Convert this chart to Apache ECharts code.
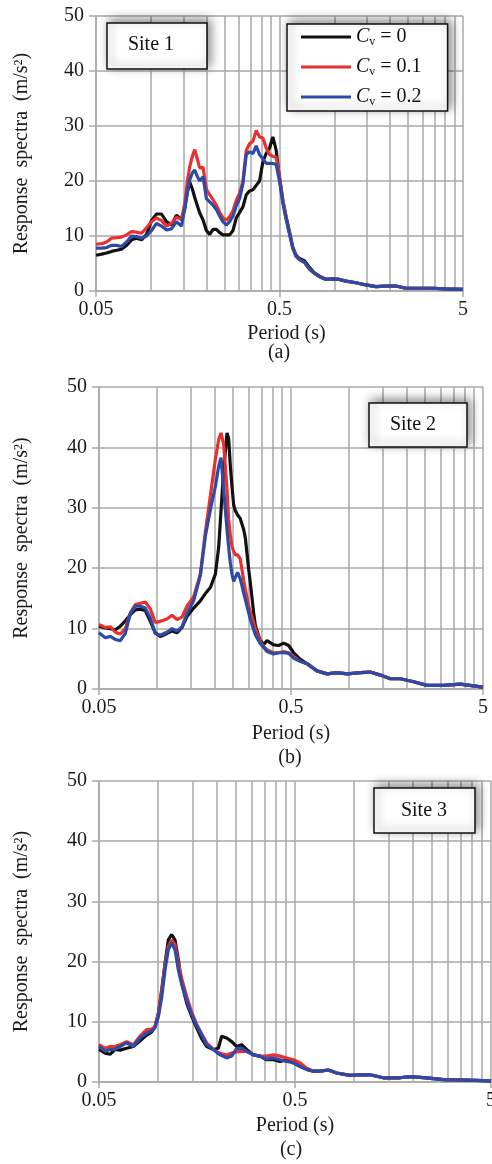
<!DOCTYPE html>
<html>
<head>
<meta charset="utf-8">
<script src="https://cdn.jsdelivr.net/npm/echarts@6/dist/echarts.min.js"></script>
<style>html,body{margin:0;padding:0;background:#fff}#c{width:492px;height:1164px}</style>
</head>
<body>
<div id="c"></div>
<script>
// ---------- tick values ----------
const yTicks = [0, 10, 20, 30, 40, 50];
const xLabelValues = [0.05, 0.5, 5];
const xGridValues = [0.05, 0.1, 0.15, 0.2, 0.25, 0.3, 0.35, 0.4, 0.45, 0.5, 1, 1.5, 2, 2.5, 3, 3.5, 4, 4.5, 5];
const seriesNames = ['Cv = 0', 'Cv = 0.1', 'Cv = 0.2'];
const siteLabels = ['Site 1', 'Site 2', 'Site 3'];
const captions = ['(a)', '(b)', '(c)'];

// ---------- Site 1 ----------
const periodsA = [0.05,0.0537,0.0571,0.0608,0.0648,0.0689,0.0734,0.0781,0.0832,0.0885,0.0943,0.1003,0.1068,0.1137,0.1211,0.1289,0.1372,0.1461,0.1523,0.1574,0.1621,0.1676,0.1726,0.1784,0.1837,0.1916,0.1997,0.2083,0.2172,0.2264,0.2361,0.246,0.2565,0.2675,0.2789,0.2908,0.3032,0.316,0.3294,0.3435,0.3582,0.3734,0.3893,0.4059,0.4231,0.4412,0.4599,0.4796,0.5,0.5213,0.5435,0.5666,0.5907,0.6159,0.6421,0.6836,0.7278,0.7748,0.825,0.8967,0.9747,1.0595,1.1516,1.3055,1.479,1.676,1.9,2.153,2.44,2.884,3.407,4.025,5.0];
const site1Cv0 = [6.5,6.7,6.9,7.2,7.4,7.6,8.3,9.3,9.6,9.3,10.3,12.8,14.0,14.0,12.6,12.0,13.8,13.0,15.0,18.0,19.8,18.5,17.0,15.5,14.2,12.9,11.0,10.3,11.2,11.2,10.6,10.2,10.2,10.2,11.0,13.3,14.3,15.3,17.5,18.2,18.4,19.2,20.0,23.5,25.0,26.0,28.0,25.6,20.5,16.5,13.5,10.8,8.0,6.5,5.9,5.5,4.3,3.3,2.7,2.1,2.2,2.1,1.8,1.5,1.1,0.8,0.9,0.9,0.5,0.5,0.5,0.4,0.3];
const site1Cv01 = [8.5,8.6,8.9,9.6,9.7,9.8,10.2,10.8,10.7,10.5,11.5,12.6,13.3,12.8,11.8,12.3,13.4,13.0,15.9,20.0,22.6,24.5,25.7,24.0,22.4,22.5,18.5,17.5,16.6,15.6,14.3,13.3,12.9,13.5,14.6,16.5,17.8,20.0,25.5,26.8,27.2,29.2,28.0,27.8,26.0,24.8,24.5,24.3,21.0,16.5,13.2,10.5,7.8,6.3,5.7,5.2,4.0,3.2,2.6,2.1,2.2,2.1,1.8,1.5,1.1,0.8,0.9,0.9,0.5,0.5,0.5,0.4,0.3];
const site1Cv02 = [7.8,7.8,7.9,8.3,8.3,8.1,8.9,10.0,9.9,9.6,10.0,11.0,12.3,11.8,11.1,11.3,12.6,11.8,15.0,18.0,20.2,21.5,22.0,20.8,20.0,20.8,16.8,16.2,15.6,14.8,13.6,12.6,12.0,12.6,13.6,15.5,16.8,19.5,24.8,25.3,25.0,26.4,24.8,24.0,23.2,23.2,23.2,23.0,20.0,16.0,13.0,10.4,7.8,6.3,5.7,5.2,4.0,3.2,2.6,2.1,2.2,2.1,1.8,1.5,1.1,0.8,0.9,0.9,0.5,0.5,0.5,0.4,0.3];

// ---------- Site 2 ----------
const periodsB = [0.05,0.0539,0.0573,0.0608,0.0646,0.0686,0.0728,0.0773,0.0821,0.0871,0.0925,0.0982,0.1043,0.113,0.12,0.1274,0.1353,0.1436,0.1556,0.1686,0.179,0.1901,0.2018,0.2101,0.216,0.223,0.2321,0.2367,0.2415,0.2464,0.2514,0.2565,0.2637,0.2723,0.2834,0.2892,0.301,0.3071,0.3196,0.326,0.3393,0.3462,0.3603,0.3749,0.3825,0.4062,0.4313,0.4579,0.4861,0.5162,0.5592,0.6058,0.6828,0.77,0.868,0.9786,1.148,1.295,1.46,1.646,1.855,2.177,2.554,3.119,3.809,5.0];
const site2Cv0 = [10.4,10.1,10.0,9.8,10.4,11.3,12.3,13.1,13.2,13.0,11.2,9.3,8.7,9.2,9.6,9.3,10.2,12.0,13.4,14.6,15.8,16.8,19.0,23.5,29.5,36.3,42.4,41.5,37.0,33.5,30.5,29.5,28.8,28.2,26.4,25.0,19.8,17.5,12.6,10.5,8.8,8.0,7.4,8.0,8.0,7.3,7.2,7.6,7.2,6.0,4.9,4.2,3.0,2.5,2.7,2.5,2.7,2.8,2.3,1.7,1.7,1.2,0.6,0.6,0.8,0.3];
const site2Cv01 = [10.7,10.2,10.3,9.4,9.1,10.0,12.6,14.0,14.2,14.4,13.3,11.0,11.2,11.6,12.2,11.5,11.9,13.7,15.3,19.0,26.0,32.0,38.0,41.3,42.4,40.5,33.0,28.0,25.5,23.6,22.8,22.2,22.2,21.5,18.0,16.5,13.8,12.8,11.0,10.0,8.5,7.8,7.0,6.5,6.3,6.0,6.0,6.2,6.0,5.4,4.6,4.2,3.0,2.5,2.7,2.5,2.7,2.8,2.3,1.7,1.7,1.2,0.6,0.6,0.8,0.3];
const site2Cv02 = [9.3,8.5,8.7,8.2,8.0,9.2,12.5,13.7,13.7,13.4,11.8,9.2,8.9,9.4,10.0,9.6,10.3,12.5,14.6,18.8,25.3,29.7,33.5,36.9,38.3,33.1,26.4,23.5,20.9,19.0,17.8,18.5,19.3,18.2,15.9,14.8,12.6,11.5,9.8,9.0,8.0,7.5,6.9,6.2,6.0,5.8,6.0,6.0,5.9,5.1,4.6,4.2,3.0,2.5,2.7,2.5,2.7,2.8,2.3,1.7,1.7,1.2,0.6,0.6,0.8,0.3];

// ---------- Site 3 ----------
const periodsC = [0.05,0.0537,0.0569,0.0603,0.064,0.0692,0.0748,0.0809,0.0875,0.0928,0.0965,0.1004,0.1044,0.1086,0.1129,0.1174,0.1221,0.127,0.1321,0.1401,0.1485,0.1575,0.167,0.1771,0.1916,0.2031,0.2113,0.2241,0.2377,0.252,0.2673,0.2834,0.3065,0.3315,0.3585,0.3877,0.4192,0.4534,0.4903,0.5302,0.5734,0.62,0.6707,0.7397,0.8159,0.954,1.073,1.207,1.411,1.717,1.931,2.348,2.856,3.756,5.0];
const site3Cv0 = [5.4,4.8,4.6,5.4,5.3,5.6,5.9,6.8,7.8,8.3,9.2,11.4,15.3,19.7,23.6,24.5,23.6,20.3,16.4,13.1,10.9,9.0,7.2,5.9,5.4,5.6,7.6,7.3,6.7,5.9,6.2,5.4,4.5,4.3,3.7,3.7,3.4,3.7,3.2,2.6,2.1,1.8,1.8,2.0,1.5,1.1,1.2,1.2,0.7,0.7,0.9,0.7,0.4,0.3,0.2];
const site3Cv01 = [6.2,5.6,5.9,5.9,6.2,6.7,6.2,7.6,8.7,8.8,9.2,11.4,15.0,19.5,22.5,23.6,22.8,19.7,17.2,14.2,11.6,9.6,8.0,6.5,5.4,4.9,4.7,4.5,4.8,5.0,5.1,5.1,4.5,4.3,4.3,4.5,4.3,4.0,3.7,3.2,2.3,1.8,1.8,2.0,1.5,1.1,1.2,1.2,0.7,0.7,0.9,0.7,0.4,0.3,0.2];
const site3Cv02 = [5.9,5.1,5.4,5.4,5.9,6.5,5.9,7.3,8.1,8.5,9.0,10.8,14.0,18.6,22.0,23.1,22.0,18.6,16.3,13.5,11.2,9.4,7.8,6.2,5.4,4.7,4.4,4.0,4.3,5.6,5.6,5.1,4.5,4.3,3.8,4.0,3.7,3.4,3.2,2.6,2.1,1.8,1.8,2.0,1.5,1.1,1.2,1.2,0.7,0.7,0.9,0.7,0.4,0.3,0.2];

const panels = [
  {periods: periodsA, values: [site1Cv0, site1Cv01, site1Cv02]},
  {periods: periodsB, values: [site2Cv0, site2Cv01, site2Cv02]},
  {periods: periodsC, values: [site3Cv0, site3Cv01, site3Cv02]}
];

// ---------- layout / style ----------
const FONT = "'Liberation Serif', 'Times New Roman', serif";
const colors = ['#111111', '#e8302f', '#2c4aa8'];
const gridCol = '#a9a9a9';
const grids = [
  {left: 96, right: 29, top: 16, height: 275},
  {left: 99, right: 9, top: 387, height: 302},
  {left: 99, right: 1, top: 781, height: 301}
];
const yNameGap = [64, 67, 67];
const xNameGap = [33, 35, 34];
const xNamePad = [[0,0,0,14], 0, 0];
const siteBoxes = [
  {x: 107, y: 23, w: 100, h: 46, tx: 151, ty: 45},
  {x: 369, y: 403, w: 98, h: 44, tx: 413, ty: 425},
  {x: 374, y: 788, w: 101, h: 45, tx: 424, ty: 811}
];
const capPos = [[279, 353], [290, 758], [291, 1150]];

const xAxes = [], yAxes = [], series = [], graphics = [];
panels.forEach((p, g) => {
  xAxes.push({
    type: 'log', logBase: 10, gridIndex: g, min: 0.05, max: 5,
    name: 'Period (s)', nameLocation: 'middle', nameGap: xNameGap[g],
    nameTextStyle: {fontFamily: FONT, fontSize: 20, color: '#1a1a1a', padding: xNamePad[g]},
    axisLine: {show: true, lineStyle: {color: gridCol, width: 1.5}},
    axisTick: {show: true, length: 6, customValues: xLabelValues, lineStyle: {color: gridCol, width: 1.5}},
    axisLabel: {customValues: xLabelValues, fontFamily: FONT, fontSize: 20, color: '#1a1a1a', margin: 9,
      alignMinLabel: 'center', alignMaxLabel: 'center', hideOverlap: false,
      formatter: v => String(+(+v).toPrecision(2))},
    splitLine: {show: false}
  });
  xAxes.push({
    type: 'log', logBase: 10, gridIndex: g, min: 0.05, max: 5, position: 'top',
    axisLine: {show: false},
    axisTick: {show: false, customValues: xGridValues},
    axisLabel: {show: false},
    splitLine: {show: true, lineStyle: {color: gridCol, width: 1.5}}
  });
  yAxes.push({
    type: 'value', gridIndex: g, min: yTicks[0], max: yTicks[yTicks.length - 1], interval: 10,
    name: 'Response  spectra  (m/s²)', nameLocation: 'middle', nameGap: yNameGap[g],
    nameTextStyle: {fontFamily: FONT, fontSize: 20, color: '#1a1a1a'},
    axisLine: {show: true, lineStyle: {color: gridCol, width: 1.5}},
    axisTick: {show: true, length: 7, lineStyle: {color: gridCol, width: 1.5}},
    axisLabel: {fontFamily: FONT, fontSize: 20, color: '#1a1a1a', margin: 12},
    splitLine: {show: true, lineStyle: {color: gridCol, width: 1.5}}
  });
  p.values.forEach((vals, k) => {
    series.push({
      type: 'line', name: seriesNames[k], xAxisIndex: g * 2, yAxisIndex: g,
      data: p.periods.map((t, i) => [t, vals[i]]),
      showSymbol: false, symbol: 'none', smooth: false,
      lineStyle: {color: colors[k], width: 3.2}, itemStyle: {color: colors[k]},
      z: 3 + k, animation: false
    });
  });
  const b = siteBoxes[g];
  graphics.push({
    type: 'rect', shape: {x: b.x, y: b.y, width: b.w, height: b.h}, z: 50,
    style: {fill: '#fff', stroke: '#111', lineWidth: 1.5, shadowBlur: 10, shadowColor: 'rgba(0,0,0,0.45)', shadowOffsetX: 3, shadowOffsetY: -3}
  });
  graphics.push({
    type: 'text', x: b.tx, y: b.ty, z: 51,
    style: {text: siteLabels[g], fontFamily: FONT, fontSize: 20, fill: '#111', align: 'center', verticalAlign: 'middle'}
  });
  graphics.push({
    type: 'text', x: capPos[g][0], y: capPos[g][1], z: 51,
    style: {text: captions[g], fontFamily: FONT, fontSize: 20, fill: '#1a1a1a', align: 'center', verticalAlign: 'middle'}
  });
});

const chart = echarts.init(document.getElementById('c'), null, {renderer: 'canvas'});
chart.setOption({
  animation: false,
  backgroundColor: '#fff',
  grid: grids.map(g => Object.assign({containLabel: false, outerBoundsMode: 'none'}, g)),
  xAxis: xAxes,
  yAxis: yAxes,
  legend: {
    data: seriesNames, orient: 'vertical', left: 287, top: 24,
    icon: 'rect', itemWidth: 50, itemHeight: 3, itemGap: 9,
    padding: [3, 26, 3, 14],
    backgroundColor: '#fff', borderColor: '#111', borderWidth: 1.5,
    shadowBlur: 10, shadowColor: 'rgba(0,0,0,0.45)', shadowOffsetX: 3, shadowOffsetY: -3,
    selectedMode: false,
    formatter: name => '{c|C}{v|v}{t| = ' + name.split('= ')[1] + '}',
    textStyle: {
      fontFamily: FONT, fontSize: 20, color: '#111',
      rich: {
        c: {fontFamily: FONT, fontSize: 20, fontStyle: 'italic', color: '#111', lineHeight: 22},
        v: {fontFamily: FONT, fontSize: 12, color: '#111', verticalAlign: 'bottom', lineHeight: 12},
        t: {fontFamily: FONT, fontSize: 20, color: '#111', lineHeight: 22}
      }
    }
  },
  graphic: graphics,
  series: series
});
</script>
</body>
</html>
